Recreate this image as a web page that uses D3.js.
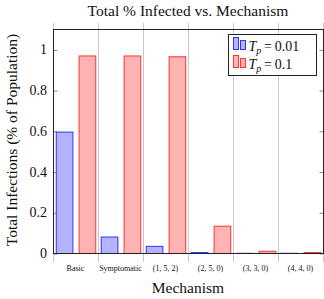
<!DOCTYPE html>
<html>
<head>
<meta charset="utf-8">
<script src="https://cdn.jsdelivr.net/npm/d3@7"></script>
<style>
body { margin: 0; background: #fff; }
svg text { font-family: "Liberation Serif", "DejaVu Serif", serif; fill: #111; }
</style>
</head>
<body>
<div id="chart"></div>
<script>
// data
var mechanisms = ["Basic", "Symptomatic", "(1, 5, 2)", "(2, 5, 0)", "(3, 3, 0)", "(4, 4, 0)"];
var seriesNames = ["0.01", "0.1"];
var infectedLow = [0.596, 0.081, 0.035, 0.005, 0.001, 0.001];
var infectedHigh = [0.97, 0.97, 0.966, 0.134, 0.011, 0.005];
var yTicks = [0, 0.2, 0.4, 0.6, 0.8, 1];

var svgWidth = 324;
var svgHeight = 299;

var margin = { top: 29, bottom: 46, left: 53, right: 1 };
var chartWidth = svgWidth - margin.left - margin.right;
var chartHeight = svgHeight - margin.top - margin.bottom;

var colors = [
    { fill: "#b3b3ff", stroke: "#3333ff" },
    { fill: "#ffb3b3", stroke: "#ff3333" }
];

var svg = d3.select("#chart")
    .append("svg")
    .attr("width", svgWidth)
    .attr("height", svgHeight)
    .attr("font-family", "Liberation Serif, serif");

var chartGroup = svg.append("g")
    .attr("transform", `translate(${margin.left}, ${margin.top})`);

var xScale = d3.scaleBand()
    .domain(mechanisms)
    .range([0, chartWidth])
    .padding(0);

var xInner = d3.scaleBand()
    .domain(seriesNames)
    .range([0, xScale.bandwidth()])
    .paddingInner(0.27)
    .paddingOuter(0.12);

var yScale = d3.scaleLinear()
    .domain([0, 1.1])
    .range([chartHeight, 0]);

// vertical grid lines on category boundaries (they poke out of the box)
var bounds = mechanisms.map(d => xScale(d)).concat([chartWidth]);
chartGroup.selectAll(".grid")
    .data(bounds)
    .enter()
    .append("line")
    .attr("x1", d => d + 0.5)
    .attr("x2", d => d + 0.5)
    .attr("y1", -6)
    .attr("y2", chartHeight + 9)
    .attr("stroke", "#c8c8c8")
    .attr("stroke-width", 1);

// y ticks, inward on both sides
var leftAxis = d3.axisLeft(yScale)
    .tickValues(yTicks)
    .tickSize(-4)
    .tickPadding(6)
    .tickFormat(d => d === 0 || d === 1 ? d3.format("d")(d) : d3.format(".1f")(d));
var yAxis = chartGroup.append("g").call(leftAxis);
yAxis.select(".domain").remove();
yAxis.selectAll("line").attr("stroke", "#888").attr("transform", "translate(0.5,0.5)");
yAxis.selectAll("text")
    .style("font-size", "14px")
    .attr("fill", "#111");

var rightAxis = d3.axisRight(yScale).tickValues(yTicks).tickSize(-4).tickFormat("");
var yAxisR = chartGroup.append("g")
    .attr("transform", `translate(${chartWidth}, 0)`)
    .call(rightAxis);
yAxisR.select(".domain").remove();
yAxisR.selectAll("line").attr("stroke", "#888").attr("transform", "translate(0.5,0.5)");

// bars
var catGroups = chartGroup.selectAll(".cat")
    .data(mechanisms)
    .enter()
    .append("g")
    .attr("transform", d => `translate(${xScale(d)}, 0)`);

catGroups.selectAll("rect")
    .data((d, i) => [infectedLow[i], infectedHigh[i]].map((v, j) => ({ s: seriesNames[j], v: v, j: j })))
    .enter()
    .append("rect")
    .attr("x", d => xInner(d.s) + 0.5)
    .attr("y", d => yScale(d.v) + 0.5)
    .attr("width", xInner.bandwidth())
    .attr("height", d => chartHeight - yScale(d.v))
    .attr("fill", d => colors[d.j].fill)
    .attr("stroke", d => colors[d.j].stroke)
    .attr("stroke-width", 1);

// box
chartGroup.append("rect")
    .attr("x", 0.5)
    .attr("y", 0.5)
    .attr("width", chartWidth)
    .attr("height", chartHeight)
    .attr("fill", "none")
    .attr("stroke", "#222")
    .attr("stroke-width", 1);

// x tick labels
chartGroup.selectAll(".xlab")
    .data(mechanisms)
    .enter()
    .append("text")
    .attr("x", d => xScale(d) + xScale.bandwidth() / 2)
    .attr("y", chartHeight + 18)
    .attr("text-anchor", "middle")
    .style("font-size", "8px")
    .text(d => d);

// titles
svg.append("text")
    .attr("x", margin.left + chartWidth / 2)
    .attr("y", 16)
    .attr("text-anchor", "middle")
    .style("font-size", "15.5px")
    .text("Total % Infected vs. Mechanism");

svg.append("text")
    .attr("x", margin.left + chartWidth / 2)
    .attr("y", 293)
    .attr("text-anchor", "middle")
    .style("font-size", "15.5px")
    .text("Mechanism");

svg.append("text")
    .attr("transform", "rotate(-90)")
    .attr("x", -140)
    .attr("y", 17)
    .attr("text-anchor", "middle")
    .style("font-size", "15.5px")
    .text("Total Infections (% of Population)");

// legend
var legend = svg.append("g").attr("transform", "translate(228.5, 34.5)");
legend.append("rect")
    .attr("width", 88)
    .attr("height", 41)
    .attr("fill", "#fff")
    .attr("stroke", "#222")
    .attr("stroke-width", 1);

seriesNames.forEach(function(name, i) {
    var row = legend.append("g").attr("transform", `translate(5, ${3 + i * 18})`);
    row.append("rect").attr("x", 0).attr("y", 0).attr("width", 5).attr("height", 12)
        .attr("fill", colors[i].fill).attr("stroke", colors[i].stroke);
    row.append("rect").attr("x", 7).attr("y", 3).attr("width", 5).attr("height", 9)
        .attr("fill", colors[i].fill).attr("stroke", colors[i].stroke);
    var t = row.append("text")
        .attr("x", 15)
        .attr("y", 13)
        .style("font-size", "14px");
    t.append("tspan").style("font-style", "italic").text("T");
    t.append("tspan").style("font-style", "italic").style("font-size", "10px").attr("dy", 3).text("p");
    t.append("tspan").attr("dy", -3).text("\u2009=\u2009" + name);
});
</script>
</body>
</html>
